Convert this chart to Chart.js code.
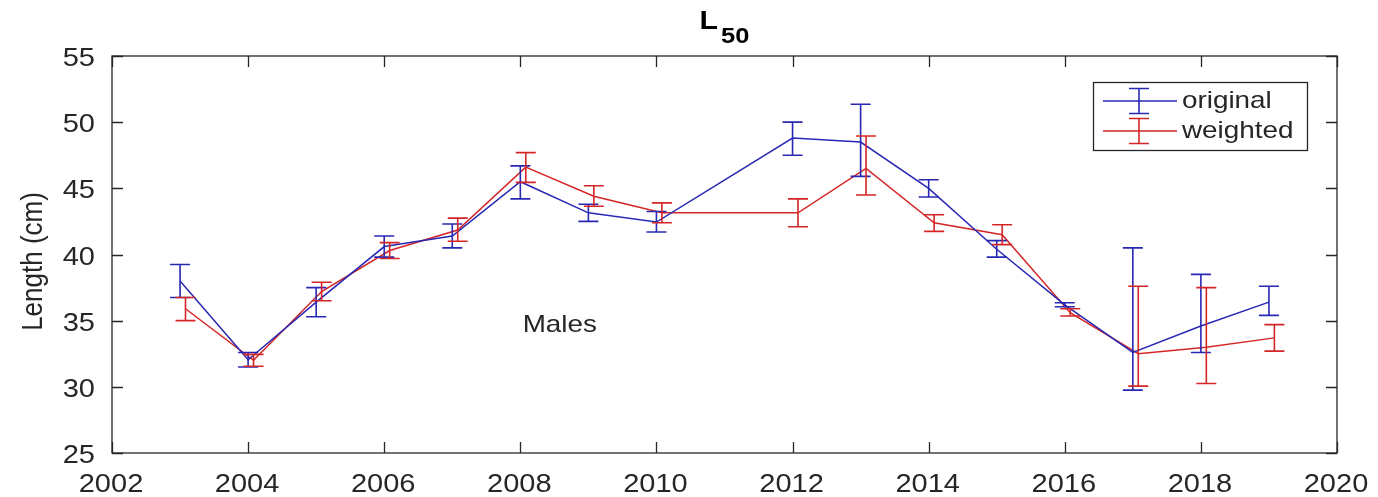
<!DOCTYPE html>
<html>
<head>
<meta charset="utf-8">
<script src="https://cdn.jsdelivr.net/npm/chart.js@4"></script>
<style>
  html, body { margin: 0; padding: 0; background: #fff; }
  #wrap { width: 1378px; height: 497px; }
</style>
</head>
<body>
<div id="wrap"><canvas id="chart" width="1378" height="497"></canvas></div>
<script>
// ─── Data ─────────────────────────────────────────────────────────
const years = [2003, 2004, 2005, 2006, 2007, 2008, 2009, 2010, 2012, 2013, 2014, 2015, 2016, 2017, 2018, 2019];

const original     = [38.0, 32.05, 36.4, 40.6, 41.4, 45.5, 43.15, 42.45, 48.8, 48.5, 45.0, 40.4, 36.2, 32.6, 34.6, 36.4];
const originalLow  = [36.75, 31.5, 35.3, 39.8, 40.5, 44.2, 42.5, 41.7, 47.5, 45.9, 44.35, 39.8, 36.05, 29.75, 32.6, 35.4];
const originalHigh = [39.25, 32.6, 37.5, 41.4, 42.3, 46.7, 43.8, 43.25, 50.0, 51.35, 45.65, 41.05, 36.35, 40.5, 38.5, 37.6];

const weighted     = [35.9, 32.0, 37.2, 40.3, 41.85, 46.6, 44.4, 43.15, 43.15, 46.5, 42.4, 41.5, 35.6, 32.5, 33.0, 33.7];
const weightedLow  = [35.0, 31.55, 36.5, 39.7, 41.0, 45.45, 43.65, 42.4, 42.1, 44.5, 41.75, 40.75, 35.35, 30.05, 30.25, 32.7];
const weightedHigh = [36.75, 32.45, 37.9, 40.9, 42.75, 47.7, 45.2, 43.9, 44.2, 48.95, 43.0, 42.25, 35.9, 37.6, 37.5, 34.7];

const seriesNames = ["original", "weighted"];
const xTicks = [2002, 2004, 2006, 2008, 2010, 2012, 2014, 2016, 2018, 2020];
const yTicks = [25, 30, 35, 40, 45, 50, 55];

// ─── Style ────────────────────────────────────────────────────────
const BLUE = "#2828b4";
const RED = "#d42626";
const AXIS = "#262626";
const FONT = "'Liberation Sans', Arial, sans-serif";
const STRETCH = 1.16;        // the source figure is widened, text included
const WEIGHTED_SHIFT = 0.08; // red bars sit slightly right of the year
const CAP = 10;
const TICK_LEN = 11;

function toPoints(xs, ys, shift) {
  return xs.map((x, i) => ({ x: x + shift, y: ys[i] }));
}

// text drawn with the same horizontal widening as the reference
function wideText(ctx, text, x, y, font, align, baseline, rotate) {
  ctx.save();
  ctx.translate(x, y);
  ctx.scale(STRETCH, 1);
  if (rotate) ctx.rotate(rotate);
  ctx.font = font;
  ctx.textAlign = align;
  ctx.textBaseline = baseline;
  ctx.fillText(text, 0, 0);
  ctx.restore();
}

// ─── Plugins ──────────────────────────────────────────────────────

// vertical error bars with caps, drawn from low/high arrays
const errorBars = {
  id: "errorBars",
  afterDatasetsDraw(chart) {
    const { ctx, scales } = chart;
    chart.data.datasets.forEach((ds, di) => {
      if (!chart.isDatasetVisible(di)) return;
      ctx.save();
      ctx.strokeStyle = ds.borderColor;
      ctx.lineWidth = 1.6;
      ds.data.forEach((p, i) => {
        const px = scales.x.getPixelForValue(p.x);
        const lo = scales.y.getPixelForValue(ds.low[i]);
        const hi = scales.y.getPixelForValue(ds.high[i]);
        ctx.beginPath();
        ctx.moveTo(px, lo);
        ctx.lineTo(px, hi);
        ctx.moveTo(px - CAP, lo);
        ctx.lineTo(px + CAP, lo);
        ctx.moveTo(px - CAP, hi);
        ctx.lineTo(px + CAP, hi);
        ctx.stroke();
      });
      ctx.restore();
    });
  },
};

// MATLAB-style box, inward ticks on all four sides, tick labels
const axesBox = {
  id: "axesBox",
  afterDraw(chart) {
    const { ctx, chartArea: a, scales } = chart;
    ctx.save();
    ctx.strokeStyle = AXIS;
    ctx.lineWidth = 1.3;
    ctx.strokeRect(a.left, a.top, a.right - a.left, a.bottom - a.top);
    ctx.beginPath();
    xTicks.forEach((t) => {
      const px = Math.round(scales.x.getPixelForValue(t)) + 0.5;
      ctx.moveTo(px, a.bottom);
      ctx.lineTo(px, a.bottom - TICK_LEN);
      ctx.moveTo(px, a.top);
      ctx.lineTo(px, a.top + TICK_LEN);
    });
    yTicks.forEach((t) => {
      const py = Math.round(scales.y.getPixelForValue(t)) + 0.5;
      ctx.moveTo(a.left, py);
      ctx.lineTo(a.left + TICK_LEN, py);
      ctx.moveTo(a.right, py);
      ctx.lineTo(a.right - TICK_LEN, py);
    });
    ctx.stroke();

    ctx.fillStyle = AXIS;
    const tickFont = `25px ${FONT}`;
    xTicks.forEach((t) => {
      wideText(ctx, String(t), scales.x.getPixelForValue(t) - 1, a.bottom + 39, tickFont, "center", "alphabetic");
    });
    yTicks.forEach((t) => {
      wideText(ctx, String(t), a.left - 17, scales.y.getPixelForValue(t) + 10, tickFont, "right", "alphabetic");
    });
    wideText(ctx, "Length (cm)", 34, (a.top + a.bottom) / 2 + 7, `26px ${FONT}`, "center", "middle", -Math.PI / 2);
    ctx.restore();
  },
};

// title with subscript, "Males" note and the errorbar legend
const annotations = {
  id: "annotations",
  afterDraw(chart) {
    const { ctx, chartArea: a, scales } = chart;
    ctx.save();

    // title L_50
    ctx.fillStyle = "#000";
    ctx.font = `bold 26px ${FONT}`;
    const wL = ctx.measureText("L").width * STRETCH;
    ctx.font = `bold 22px ${FONT}`;
    const wSub = ctx.measureText("50").width * STRETCH;
    const gap = 3;
    const x0 = (a.left + a.right) / 2 - (wL + wSub + gap) / 2;
    wideText(ctx, "L", x0, 29, `bold 26px ${FONT}`, "left", "alphabetic");
    wideText(ctx, "50", x0 + wL + gap, 43, `bold 22px ${FONT}`, "left", "alphabetic");

    // Males note
    ctx.fillStyle = AXIS;
    wideText(ctx, "Males", scales.x.getPixelForValue(2008.58), scales.y.getPixelForValue(34.67),
      `24px ${FONT}`, "center", "middle");

    // legend
    const bw = 214, bh = 68;
    const bx = a.right - 30 - bw;
    const by = a.top + 26;
    ctx.fillStyle = "#fff";
    ctx.fillRect(bx, by, bw, bh);
    ctx.strokeStyle = AXIS;
    ctx.lineWidth = 1.3;
    ctx.strokeRect(bx + 0.5, by + 0.5, bw, bh);
    [BLUE, RED].forEach((col, i) => {
      const ly = by + 19 + i * 30;
      const mx = bx + 46;
      ctx.strokeStyle = col;
      ctx.lineWidth = 1.6;
      ctx.beginPath();
      ctx.moveTo(bx + 10, ly);
      ctx.lineTo(bx + 84, ly);
      ctx.moveTo(mx, ly - 12.5);
      ctx.lineTo(mx, ly + 12.5);
      ctx.moveTo(mx - 10, ly - 12.5);
      ctx.lineTo(mx + 10, ly - 12.5);
      ctx.moveTo(mx - 10, ly + 12.5);
      ctx.lineTo(mx + 10, ly + 12.5);
      ctx.stroke();
      ctx.fillStyle = AXIS;
      wideText(ctx, seriesNames[i], bx + 89, ly + 7, `24px ${FONT}`, "left", "alphabetic");
    });
    ctx.restore();
  },
};

// ─── Chart ────────────────────────────────────────────────────────
new Chart(document.getElementById("chart"), {
  type: "line",
  data: {
    datasets: [
      {
        label: seriesNames[0],
        data: toPoints(years, original, 0),
        low: originalLow,
        high: originalHigh,
        borderColor: BLUE,
        borderWidth: 1.5,
        pointRadius: 0,
        tension: 0,
      },
      {
        label: seriesNames[1],
        data: toPoints(years, weighted, WEIGHTED_SHIFT),
        low: weightedLow,
        high: weightedHigh,
        borderColor: RED,
        borderWidth: 1.5,
        pointRadius: 0,
        tension: 0,
      },
    ],
  },
  options: {
    responsive: false,
    animation: false,
    layout: { padding: { top: 56, right: 41, bottom: 0, left: 0 } },
    plugins: {
      legend: { display: false },
      title: { display: false },
      tooltip: { enabled: false },
    },
    scales: {
      x: {
        type: "linear",
        min: 2002,
        max: 2020,
        afterBuildTicks: (s) => { s.ticks = xTicks.map((v) => ({ value: v })); },
        afterFit: (s) => { s.height = 44; },
        grid: { display: false, drawTicks: false },
        border: { display: false },
        ticks: { display: false },
      },
      y: {
        min: 25,
        max: 55,
        afterBuildTicks: (s) => { s.ticks = yTicks.map((v) => ({ value: v })); },
        afterFit: (s) => { s.width = 112; },
        grid: { display: false, drawTicks: false },
        border: { display: false },
        ticks: { display: false },
      },
    },
  },
  plugins: [errorBars, axesBox, annotations],
});
</script>
</body>
</html>
